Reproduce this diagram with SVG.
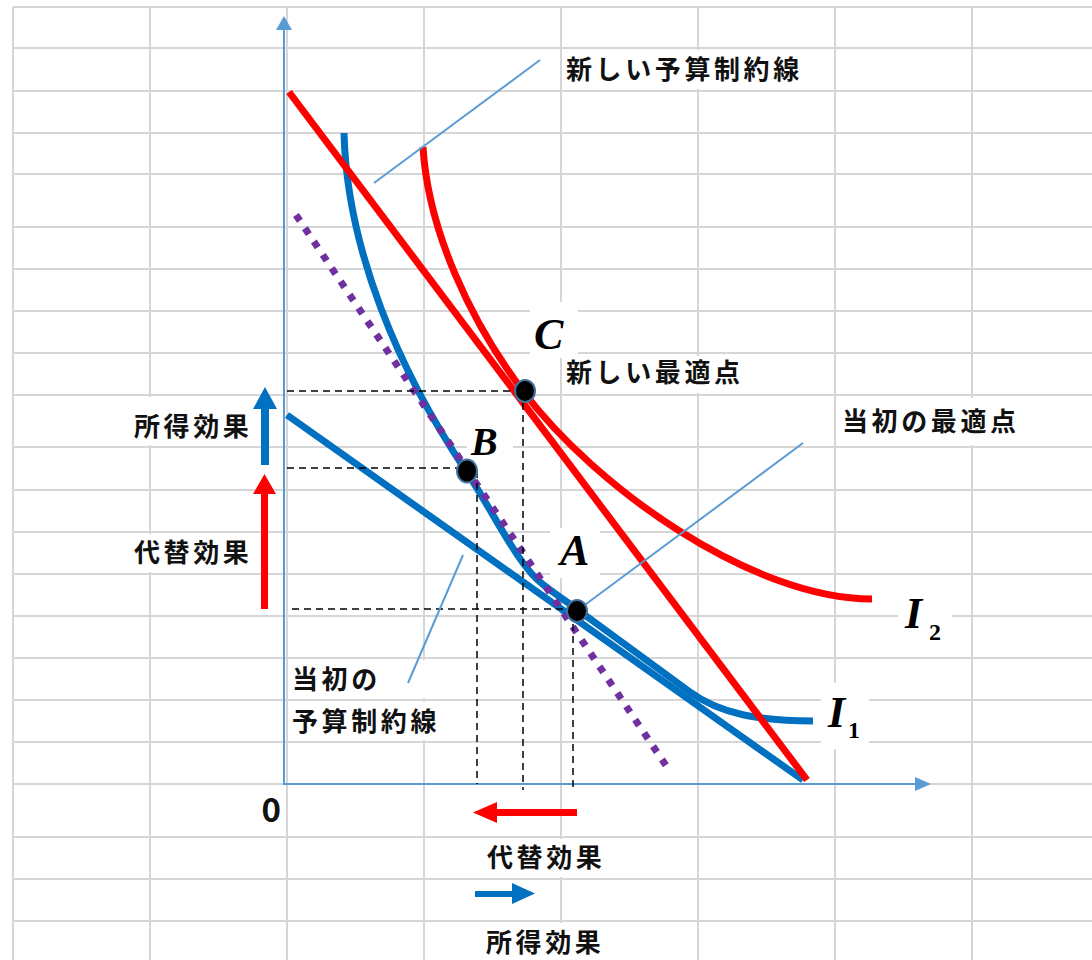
<svg xmlns="http://www.w3.org/2000/svg" width="1092" height="960" viewBox="0 0 1092 960">
<style>
.grid line{stroke:#d6d6d6;stroke-width:2}
.box{fill:#fff}
.jp{font-family:'Noto Sans CJK JP','Noto Sans',sans-serif;font-weight:700;font-size:26px;letter-spacing:3.6px;fill:#111}
.it{font-family:'Liberation Serif','Times New Roman',serif;font-style:italic;font-weight:700;fill:#000}
.sub{font-family:'Liberation Serif','Times New Roman',serif;font-weight:700;fill:#000}
.axis{stroke:#5b9bd5;stroke-width:2;fill:none}
.axhead{fill:#5b9bd5}
.leader{stroke:#5b9bd5;stroke-width:2;fill:none}
.guide{stroke:#000;stroke-width:1.5;stroke-dasharray:7 5;fill:none}
.pt{fill:#000;stroke:#41719c;stroke-width:2}
.blue{stroke:#0070c0;stroke-width:7;fill:none}
.red{stroke:#ff0000;stroke-width:7;fill:none}
</style>
<rect width="1092" height="960" fill="#fff"/>
<g id="grid" class="grid">
<line x1="13" y1="7" x2="13" y2="960"/><line x1="150" y1="7" x2="150" y2="960"/><line x1="287" y1="7" x2="287" y2="960"/><line x1="424" y1="7" x2="424" y2="960"/><line x1="561" y1="7" x2="561" y2="960"/><line x1="698" y1="7" x2="698" y2="960"/><line x1="835" y1="7" x2="835" y2="960"/><line x1="972" y1="7" x2="972" y2="960"/>
<line x1="13" y1="7" x2="1092" y2="7"/><line x1="13" y1="48" x2="1092" y2="48"/><line x1="13" y1="91" x2="1092" y2="91"/><line x1="13" y1="133" x2="1092" y2="133"/><line x1="13" y1="174" x2="1092" y2="174"/><line x1="13" y1="227" x2="1092" y2="227"/><line x1="13" y1="269" x2="1092" y2="269"/><line x1="13" y1="311" x2="1092" y2="311"/><line x1="13" y1="353" x2="1092" y2="353"/><line x1="13" y1="395" x2="1092" y2="395"/><line x1="13" y1="447" x2="1092" y2="447"/><line x1="13" y1="490" x2="1092" y2="490"/><line x1="13" y1="532" x2="1092" y2="532"/><line x1="13" y1="574" x2="1092" y2="574"/><line x1="13" y1="616" x2="1092" y2="616"/><line x1="13" y1="658" x2="1092" y2="658"/><line x1="13" y1="700" x2="1092" y2="700"/><line x1="13" y1="742" x2="1092" y2="742"/><line x1="13" y1="784" x2="1092" y2="784"/><line x1="13" y1="837" x2="1092" y2="837"/><line x1="13" y1="879" x2="1092" y2="879"/><line x1="13" y1="921" x2="1092" y2="921"/>
</g>
<g id="label-boxes" class="box">
<rect x="562" y="50" width="240" height="39"/>
<rect x="562" y="356" width="186" height="37"/>
<rect x="838" y="398" width="182" height="47"/>
<rect x="130" y="397" width="124" height="48"/>
<rect x="130" y="534" width="124" height="38"/>
<rect x="288" y="660" width="156" height="38"/>
<rect x="288" y="702" width="156" height="38"/>
<rect x="482" y="839" width="126" height="38"/>
<rect x="482" y="923" width="126" height="37"/>
<rect x="530" y="302" width="48" height="56"/>
<rect x="467" y="420" width="46" height="45"/>
<rect x="550" y="528" width="50" height="50"/>
<rect x="898" y="594" width="54" height="54"/>
<rect x="821" y="683" width="48" height="66"/>
</g>
<g id="axes">
<line class="axis" x1="284" y1="784" x2="284" y2="28"/>
<polygon class="axhead" points="276,30 292,30 284,16"/>
<line class="axis" x1="283" y1="784" x2="917" y2="784"/>
<polygon class="axhead" points="915,777 915,791 931,784"/>
</g>
<g id="budget-original"><line class="blue" x1="287" y1="415" x2="803" y2="780"/></g>
<g id="curve-I1"><path class="blue" d="M344,133 C347,250 399,371 466,471 C493,511 518,566 543,584.5 C555,594 566,601 578,610 C608,632 660,670 690,692 C720,714 760,721 813,721"/></g>
<g id="curve-I2"><path class="red" d="M423,147 C428,230 470,321 523,391 C595,487 752,599 872,599"/></g>
<g id="budget-new"><line class="red" x1="289" y1="92" x2="807" y2="780"/></g>
<g id="budget-compensated"><line x1="296" y1="215" x2="667" y2="767" stroke="#7030a0" stroke-width="7" stroke-dasharray="7 9"/></g>
<g id="connectors">
<path class="guide" d="M287,391 H523 M523,391 V790"/>
<path class="guide" d="M287,468 H466 M477,471 V784"/>
<path class="guide" d="M292,609 H578 M573,612 V790"/>
<line class="leader" x1="374" y1="183" x2="540" y2="60"/>
<line class="leader" x1="578" y1="610" x2="803" y2="443"/>
<line class="leader" x1="463" y1="555" x2="408" y2="683"/>
</g>
<g id="point-C"><ellipse class="pt" cx="525" cy="391" rx="10" ry="11"/></g>
<g id="point-B"><ellipse class="pt" cx="467" cy="471" rx="10" ry="11.5"/></g>
<g id="point-A"><ellipse class="pt" cx="577" cy="611" rx="10" ry="11"/></g>
<g id="arrows">
<polygon fill="#ff0000" points="261,609 268,609 268,494 276,494 264.5,474 253,494 261,494"/>
<polygon fill="#0070c0" points="261,465 269,465 269,409 277,409 265,387 253,409 261,409"/>
<polygon fill="#ff0000" points="577,809 577,816 497,816 497,823 473,812.5 497,802 497,809"/>
<polygon fill="#0070c0" points="475,891 512,891 512,883 535,893.5 512,904 512,897 475,897"/>
</g>
<g id="labels">
<text class="jp" x="566" y="79">新しい予算制約線</text>
<text class="jp" x="566" y="382">新しい最適点</text>
<text class="jp" x="842" y="431">当初の最適点</text>
<text class="jp" x="134" y="436">所得効果</text>
<text class="jp" x="134" y="562">代替効果</text>
<text class="jp" x="292" y="689">当初の</text>
<text class="jp" x="292" y="731">予算制約線</text>
<text class="jp" x="487" y="867">代替効果</text>
<text class="jp" x="486" y="952">所得効果</text>
<text x="281" y="822" text-anchor="end" font-family="'Noto Sans CJK JP','Noto Sans',sans-serif" font-weight="700" font-size="33" fill="#111">0</text>
<text class="it" x="534" y="349" font-size="44">C</text>
<text class="it" x="471" y="455" font-size="40">B</text>
<text class="it" x="560" y="565" font-size="44">A</text>
<text class="it" x="905" y="628" font-size="44">I</text><text class="sub" x="929" y="640" font-size="24">2</text>
<text class="it" x="828" y="727" font-size="44">I</text><text class="sub" x="848" y="738" font-size="24">1</text>
</g>
</svg>
